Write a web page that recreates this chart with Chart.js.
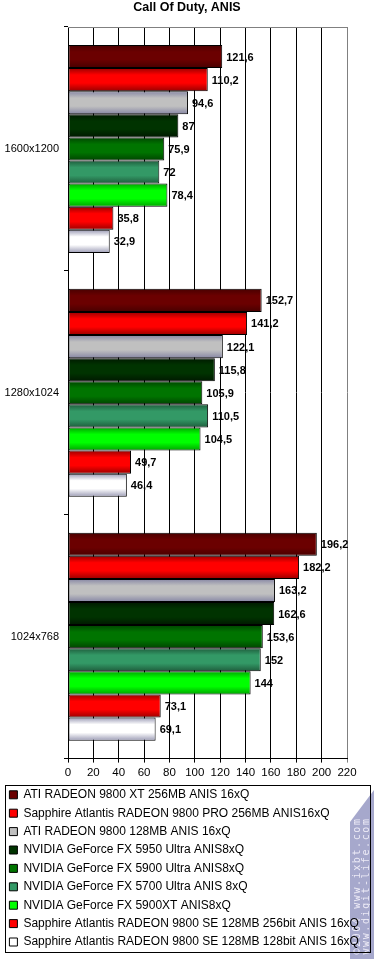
<!DOCTYPE html>
<html>
<head>
<meta charset="utf-8">
<title>Call Of Duty, ANIS</title>
<script src="https://cdn.jsdelivr.net/npm/chart.js@4"></script>
<style>
  body { margin: 0; background: #fff; }
</style>
</head>
<body>
<canvas id="chart" width="376" height="959"></canvas>
<script>
const resolutions = ['1600x1200', '1280x1024', '1024x768'];
const cardNames = [
  'ATI RADEON 9800 XT 256MB ANIS 16xQ',
  'Sapphire Atlantis RADEON 9800 PRO 256MB ANIS16xQ',
  'ATI RADEON 9800 128MB ANIS 16xQ',
  'NVIDIA GeForce FX 5950 Ultra ANIS8xQ',
  'NVIDIA GeForce FX 5900 Ultra ANIS8xQ',
  'NVIDIA GeForce FX 5700 Ultra ANIS 8xQ',
  'NVIDIA GeForce FX 5900XT ANIS8xQ',
  'Sapphire Atlantis RADEON 9800 SE 128MB 256bit ANIS 16xQ',
  'Sapphire Atlantis RADEON 9800 SE 128MB 128bit ANIS 16xQ'
];
const r9800xt = [121.6, 152.7, 196.2];
const r9800pro = [110.2, 141.2, 182.2];
const r9800 = [94.6, 122.1, 163.2];
const fx5950 = [87, 115.8, 162.6];
const fx5900 = [75.9, 105.9, 153.6];
const fx5700 = [72, 110.5, 152];
const fx5900xt = [78.4, 104.5, 144];
const r9800se256 = [35.8, 49.7, 73.1];
const r9800se128 = [32.9, 46.4, 69.1];
const xTicks = [0, 20, 40, 60, 80, 100, 120, 140, 160, 180, 200, 220];

const allSeries = [r9800xt, r9800pro, r9800, fx5950, fx5900, fx5700, fx5900xt, r9800se256, r9800se128];
// main colour + darker edge colour for the striped "tube" look
const barColors = [
  ['#6b0000', '#480000'],
  ['#ff0000', '#9a0000'],
  ['#c0c0c0', '#8686a4'],
  ['#003300', '#001800'],
  ['#007400', '#004400'],
  ['#339966', '#1e5c3c'],
  ['#00ff00', '#00a400'],
  ['#ff0000', '#9a0000'],
  ['#ffffff', '#9a9ab4']
];

Chart.defaults.font.family = '"Liberation Sans", Arial, sans-serif';
Chart.defaults.color = '#000';

// site stamp in the bottom right corner, under everything else
const stamp = {
  id: 'stamp',
  beforeDraw(chart) {
    const ctx = chart.ctx;
    ctx.save();
    ctx.fillStyle = '#a6a8cc';
    ctx.beginPath();
    ctx.moveTo(350, 822);
    ctx.lineTo(374, 790);
    ctx.lineTo(374, 959);
    ctx.lineTo(350, 959);
    ctx.closePath();
    ctx.fill();
    ctx.translate(362, 886);
    ctx.rotate(-Math.PI / 2);
    ctx.fillStyle = '#eceaf6';
    ctx.font = '10px "DejaVu Sans Mono", monospace';
    ctx.textAlign = 'center';
    ctx.textBaseline = 'middle';
    ctx.letterSpacing = '1.6px';
    ctx.fillText('©2004 www.ixbt.com', 0, -4.5);
    ctx.fillText('www.digit-life.com', 0, 4.5);
    ctx.restore();
  }
};

// paint each bar with a vertical gradient once its position is known
const tubeFill = {
  id: 'tubeFill',
  beforeDatasetsDraw(chart) {
    const ctx = chart.ctx;
    chart.data.datasets.forEach((ds, di) => {
      const [main, edge] = barColors[di];
      chart.getDatasetMeta(di).data.forEach(bar => {
        const top = bar.y - bar.height / 2;
        const g = ctx.createLinearGradient(0, top, 0, top + bar.height);
        g.addColorStop(0, edge);
        g.addColorStop(0.3, main);
        g.addColorStop(0.65, main);
        g.addColorStop(1, edge);
        bar.options = Object.assign({}, bar.options, { backgroundColor: g });
      });
    });
  }
};

const valueLabels = {
  id: 'valueLabels',
  afterDatasetsDraw(chart) {
    const ctx = chart.ctx;
    ctx.save();
    ctx.font = 'bold 11px "Liberation Sans", Arial, sans-serif';
    ctx.fillStyle = '#000';
    ctx.textBaseline = 'middle';
    ctx.textAlign = 'left';
    chart.data.datasets.forEach((ds, di) => {
      chart.getDatasetMeta(di).data.forEach((bar, i) => {
        ctx.fillText(String(ds.data[i]).replace('.', ','), bar.x + 4, bar.y + 1);
      });
    });
    ctx.restore();
  }
};

const frame = {
  id: 'frame',
  afterDraw(chart) {
    const ctx = chart.ctx;
    const a = chart.chartArea;
    ctx.save();
    ctx.strokeStyle = '#808080';
    ctx.lineWidth = 1;
    ctx.beginPath();
    ctx.moveTo(a.left, Math.round(a.top) + 0.5);
    ctx.lineTo(a.right, Math.round(a.top) + 0.5);
    ctx.stroke();
    // legend box
    ctx.strokeStyle = '#000';
    ctx.strokeRect(5.5, 785.5, 365, 167);
    ctx.restore();
  }
};

new Chart(document.getElementById('chart'), {
  type: 'bar',
  data: {
    labels: resolutions,
    datasets: allSeries.map((values, i) => ({
      label: cardNames[i],
      data: values,
      backgroundColor: barColors[i][0],
      borderColor: '#000',
      borderWidth: 1,
      borderSkipped: false,
      barPercentage: 1,
      categoryPercentage: 0.853
    }))
  },
  options: {
    indexAxis: 'y',
    responsive: false,
    animation: false,
    layout: { padding: { left: 3, right: 5, top: 0, bottom: 1 } },
    plugins: {
      title: {
        display: true,
        text: 'Call Of Duty, ANIS',
        color: '#000',
        font: { size: 12.5, weight: 'bold' },
        padding: { top: 0, bottom: 12 }
      },
      legend: {
        position: 'bottom',
        align: 'start',
        labels: {
          boxWidth: 8,
          boxHeight: 8,
          padding: 6.4,
          color: '#000',
          font: { size: 12 }
        }
      },
      tooltip: { enabled: false }
    },
    scales: {
      x: {
        min: 0,
        max: 220,
        afterBuildTicks(scale) { scale.ticks = xTicks.map(v => ({ value: v })); },
        ticks: { font: { size: 11.5 }, color: '#000', padding: 3 },
        grid: {
          color: c => (c.tick && c.tick.value === 220 ? '#808080' : '#000'),
          tickLength: 4
        },
        border: { color: '#000' }
      },
      y: {
        afterFit(scale) { scale.width = 65; },
        ticks: { font: { size: 11 }, color: '#000', padding: 5 },
        grid: { drawOnChartArea: false, tickLength: 4, color: '#000' },
        border: { color: '#000' }
      },
      // blank spacer on the right so the legend can run wider than the plot
      gap: {
        type: 'category',
        position: 'right',
        afterFit(scale) { scale.width = 24; },
        ticks: { display: false },
        grid: { display: false },
        border: { display: false }
      }
    }
  },
  plugins: [stamp, tubeFill, valueLabels, frame]
});
</script>
</body>
</html>
